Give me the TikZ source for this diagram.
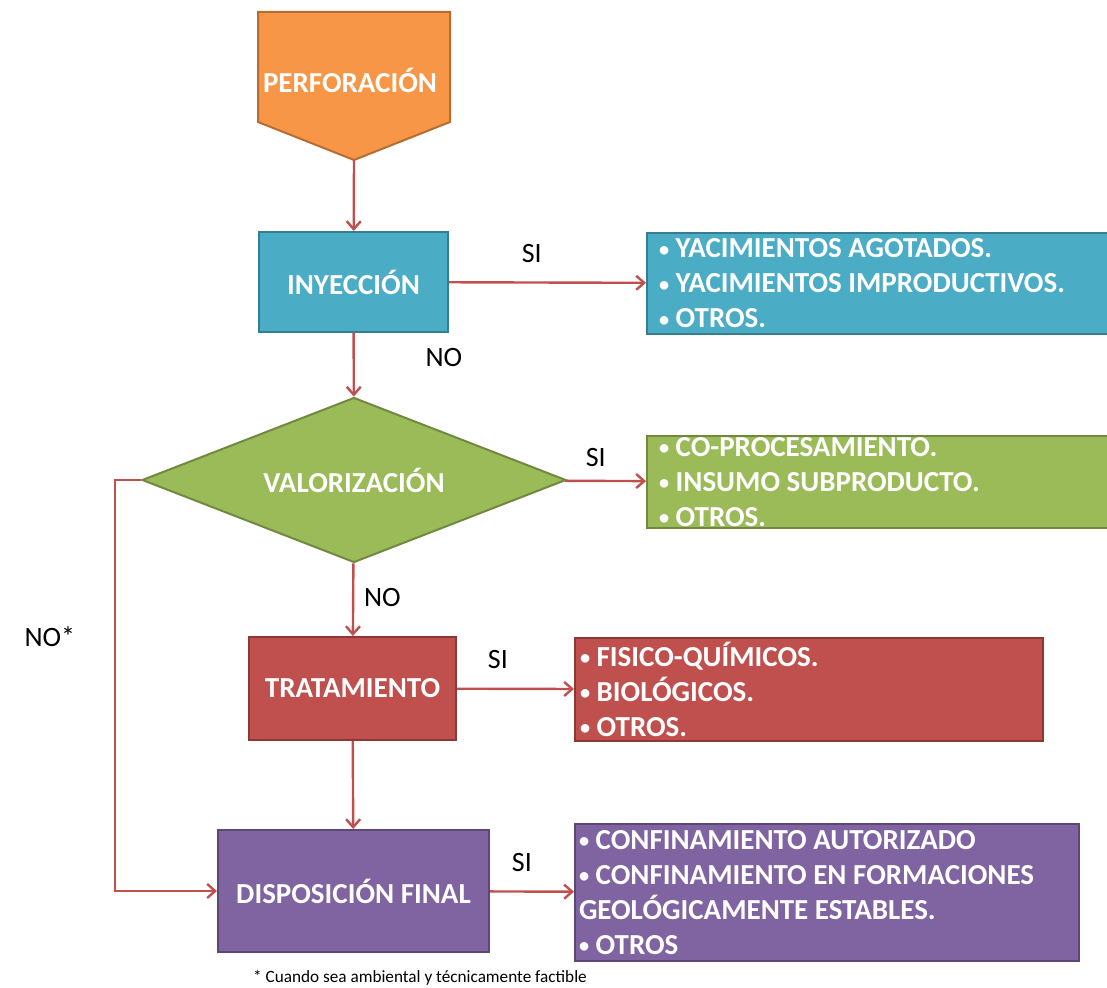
\documentclass[tikz,border=0pt]{standalone}
\usepackage{fontspec}
\setmainfont{Carlito}
\usetikzlibrary{shapes.geometric,arrows.meta}
\definecolor{perforange}{HTML}{F79646}
\definecolor{perfedge}{HTML}{B66D31}
\definecolor{inyblue}{HTML}{4BACC6}
\definecolor{inyedge}{HTML}{357D91}
\definecolor{valgreen}{HTML}{9BBB59}
\definecolor{valedge}{HTML}{71893F}
\definecolor{tratred}{HTML}{C0504D}
\definecolor{tratedge}{HTML}{8C3836}
\definecolor{disppurple}{HTML}{8064A2}
\definecolor{dispedge}{HTML}{5C4776}
\definecolor{linkred}{HTML}{C0504D}
\newcommand{\bul}{\raisebox{0.12ex}{\scalebox{0.7}{•}}}
\tikzstyle{box}=[rectangle,draw,line width=1pt,text=white,inner sep=0pt,align=center,font=\bfseries\fontsize{14.5}{17.5}\selectfont]
\tikzstyle{list}=[box,anchor=north west,align=flush left]
\tikzstyle{link}=[line width=1.2pt,linkred,->,>={Straight Barb[length=4pt,width=7pt]}]
\tikzstyle{lbl}=[text=black,font=\fontsize{14}{17}\selectfont]

\begin{document}
\begin{tikzpicture}[x=0.5pt,y=-0.5pt]
      \useasboundingbox (0,0) rectangle (1107,988);
      % main chain
      \draw [line width=1pt,fill=perforange,draw=perfedge] (258,12) -- (450,12) -- (450,122) -- (354,160) -- (258,122) -- cycle;
      \node (perf) [text=white,font=\bfseries\fontsize{14.5}{17.5}\selectfont] at (350,80) {PERFORACIÓN};
      \coordinate (perftip) at (354,160);
      \node (iny) [box,fill=inyblue,draw=inyedge,minimum width=94.5pt,minimum height=50pt] at (353.5,282) {INYECCIÓN};
      \node (val) [diamond,aspect=2.57,draw,line width=1pt,fill=valgreen,draw=valedge,text=white,inner sep=0pt,minimum width=212pt,minimum height=82.5pt,font=\bfseries\fontsize{14.5}{17.5}\selectfont] at (354,480) {VALORIZACIÓN};
      \node (trat) [box,fill=tratred,draw=tratedge,minimum width=103.5pt,minimum height=51.5pt] at (352.5,688.5) {TRATAMIENTO};
      \node (disp) [box,fill=disppurple,draw=dispedge,minimum width=135.5pt,minimum height=61pt] at (353.5,891) {DISPOSICIÓN FINAL};
      % options
      \node (opiny) [list,fill=inyblue,draw=inyedge,minimum height=50.5pt,text width=224.5pt,inner xsep=6pt] at (646,232) {\bul{} YACIMIENTOS AGOTADOS.\\\bul{} YACIMIENTOS IMPRODUCTIVOS.\\\bul{} OTROS.};
      \node (opval) [list,fill=valgreen,draw=valedge,minimum height=46pt,text width=224.5pt,inner xsep=6pt] at (646,435) {\bul{} CO-PROCESAMIENTO.\\\bul{} INSUMO SUBPRODUCTO.\\\bul{} OTROS.};
      \node (optrat) [list,fill=tratred,draw=tratedge,minimum height=51.5pt,text width=229pt,inner xsep=2.5pt] at (574,637) {\bul{} FISICO-QUÍMICOS.\\\bul{} BIOLÓGICOS.\\\bul{} OTROS.};
      \node (opdisp) [list,fill=disppurple,draw=dispedge,minimum height=68.5pt,text width=248pt,inner xsep=2pt] at (574,823) {\bul{} CONFINAMIENTO AUTORIZADO\\\bul{} CONFINAMIENTO EN FORMACIONES\\GEOLÓGICAMENTE ESTABLES.\\\bul{} OTROS};
      % connectors
      \draw [link] (perftip) -- (iny);
      \draw [link] (iny) -- node[lbl,pos=0.42,above=6pt] {SI} (opiny);
      \draw [link] (iny) -- node[lbl,pos=0.38,right=32pt] {NO} (val);
      \draw [link] (val) -- node[lbl,pos=0.38,above=3pt] {SI} (opval);
      \draw [link] (val) -- node[lbl,pos=0.47,right=1.5pt] {NO} (trat);
      \draw [link] (trat) -- node[lbl,pos=0.35,above=6pt] {SI} (optrat);
      \draw [link] (trat) -- (disp);
      \draw [link] (disp) -- node[lbl,pos=0.38,above=6pt] {SI} (opdisp);
      \draw [link] (val.west) -- ++(-26,0) |- node[lbl,pos=0.19,left=16pt] {NO*} (disp.west);
      \node (nota) [text=black,font=\fontsize{8.6}{10}\selectfont] at (420,978) {* Cuando sea ambiental y técnicamente factible};
\end{tikzpicture}
\end{document}
